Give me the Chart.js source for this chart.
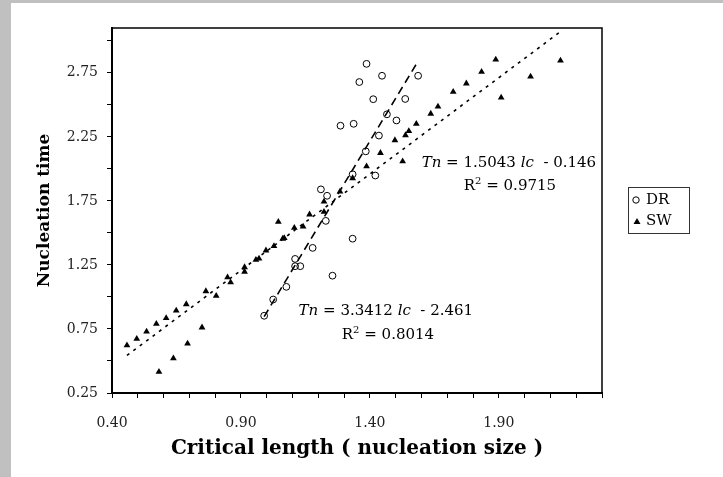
<!DOCTYPE html>
<html>
<head>
<meta charset="utf-8">
<title>Nucleation time vs critical length</title>
<script src="https://cdn.jsdelivr.net/npm/chart.js@4.4.0/dist/chart.umd.min.js"></script>
<style>
    html, body { margin: 0; padding: 0; background: #fff; }
    #wrap { width: 723px; height: 477px; position: relative; }
</style>
</head>
<body>
<div id="wrap"><canvas id="nucleationChart"></canvas></div>
<script>
// DR series (open circles)
const drX = [0.99, 1.025, 1.076, 1.11, 1.11, 1.13, 1.178, 1.255, 1.229, 1.21, 1.234, 1.333, 1.333,
             1.421, 1.384, 1.435, 1.286, 1.337, 1.466, 1.503, 1.413, 1.537, 1.359, 1.447, 1.587, 1.387];
const drY = [0.853, 0.98, 1.079, 1.297, 1.24, 1.24, 1.383, 1.166, 1.594, 1.84, 1.79, 1.455, 1.958,
             1.948, 2.137, 2.26, 2.337, 2.352, 2.426, 2.378, 2.544, 2.546, 2.678, 2.727, 2.727, 2.82];

// SW series (filled triangles)
const swX = [0.458, 0.496, 0.534, 0.572, 0.61, 0.649, 0.688, 0.764, 0.804, 0.848, 0.86, 0.914, 0.914,
             0.958, 0.97, 0.997, 1.028, 1.062, 1.068, 1.045, 1.107, 1.141, 1.166, 1.222, 1.222, 1.284,
             1.333, 1.387, 1.527, 1.441, 1.497, 1.538, 1.551, 1.58, 1.636, 1.664, 1.723, 1.774, 1.833,
             1.888, 1.909, 2.023, 2.139, 0.582, 0.638, 0.693, 0.749];
const swY = [0.622, 0.673, 0.73, 0.79, 0.835, 0.893, 0.943, 1.045, 1.008, 1.153, 1.114, 1.232, 1.197,
             1.29, 1.30, 1.363, 1.397, 1.455, 1.46, 1.586, 1.539, 1.549, 1.644, 1.665, 1.744, 1.822,
             1.927, 2.02, 2.059, 2.124, 2.224, 2.263, 2.295, 2.352, 2.431, 2.486, 2.602, 2.667, 2.758,
             2.853, 2.557, 2.72, 2.846, 0.415, 0.52, 0.636, 0.762];

// linear trendlines as printed on the chart
const drFit = { slope: 3.3412, intercept: -2.461, r2: '0.8014', c: '2.461' };
const swFit = { slope: 1.5043, intercept: -0.146, r2: '0.9715', c: '0.146' };

const xTickLabels = ['0.40', '0.90', '1.40', '1.90'];
const yTickLabels = ['0.25', '0.75', '1.25', '1.75', '2.25', '2.75'];

const serif = "'DejaVu Serif', serif";

function toPoints(xs, ys) {
    return xs.map((x, i) => ({ x: x, y: ys[i] }));
}

// trendline spans the x range of its own series
function fitLine(xs, fit) {
    const lo = Math.min(...xs);
    const hi = Math.max(...xs);
    return [
        { x: lo, y: fit.slope * lo + fit.intercept },
        { x: hi, y: fit.slope * hi + fit.intercept }
    ];
}

// draw a run of text pieces, centred on (cx, cy)
function drawRich(ctx, parts, cx, cy) {
    let total = 0;
    parts.forEach(p => {
        ctx.font = p.font;
        p.w = ctx.measureText(p.text).width;
        total += p.w;
    });
    let x = cx - total / 2;
    ctx.textAlign = 'left';
    ctx.textBaseline = 'middle';
    parts.forEach(p => {
        ctx.font = p.font;
        ctx.fillText(p.text, x, cy + (p.dy || 0));
        x += p.w;
    });
}

function eqParts(fit) {
    const up = "15px " + serif;
    const it = "italic 15px " + serif;
    return [
        { text: 'Tn', font: it },
        { text: ' = ' + fit.slope.toFixed(4) + ' ', font: up },
        { text: 'lc', font: it },
        { text: '  - ' + fit.c, font: up }
    ];
}

function r2Parts(fit) {
    const up = "15px " + serif;
    return [
        { text: 'R', font: up },
        { text: '2', font: "10px " + serif, dy: -5 },
        { text: ' = ' + fit.r2, font: up }
    ];
}

const framePlugin = {
    id: 'frame',
    beforeDraw(chart) {
        const ctx = chart.ctx;
        ctx.save();
        ctx.fillStyle = '#c0c0c0';
        ctx.fillRect(0, 0, 11, chart.height);
        ctx.fillRect(0, 0, chart.width, 3);
        ctx.restore();
    },
    afterDraw(chart) {
        const ctx = chart.ctx;
        const a = chart.chartArea;
        const xs = chart.scales.x;
        const ys = chart.scales.y;
        ctx.save();

        // plot box
        ctx.strokeStyle = '#000';
        ctx.lineWidth = 1.5;
        ctx.strokeRect(a.left, a.top, a.right - a.left, a.bottom - a.top);

        // trendline equations
        ctx.fillStyle = '#000';
        drawRich(ctx, eqParts(swFit), xs.getPixelForValue(1.939), ys.getPixelForValue(2.045));
        drawRich(ctx, r2Parts(swFit), xs.getPixelForValue(1.943), ys.getPixelForValue(1.864));
        drawRich(ctx, eqParts(drFit), xs.getPixelForValue(1.462), ys.getPixelForValue(0.888));
        drawRich(ctx, r2Parts(drFit), xs.getPixelForValue(1.470), ys.getPixelForValue(0.699));

        // legend
        const lx = 628, ly = 187, lw = 61, lh = 46;
        ctx.fillStyle = '#fff';
        ctx.fillRect(lx, ly, lw, lh);
        ctx.strokeStyle = '#333';
        ctx.lineWidth = 1;
        ctx.strokeRect(lx + 0.5, ly + 0.5, lw, lh);

        ctx.fillStyle = '#000';
        ctx.font = "15px " + serif;
        ctx.textAlign = 'left';
        ctx.textBaseline = 'middle';

        ctx.beginPath();
        ctx.arc(636, 200, 3.2, 0, Math.PI * 2);
        ctx.strokeStyle = '#000';
        ctx.stroke();
        ctx.fillText('DR', 646, 200);

        ctx.beginPath();
        ctx.moveTo(637, 218);
        ctx.lineTo(640.5, 224);
        ctx.lineTo(633.5, 224);
        ctx.closePath();
        ctx.fill();
        ctx.fillText('SW', 646, 221);

        ctx.restore();
    }
};

function isLabelled(value, list) {
    return list.indexOf(Number(value).toFixed(2)) !== -1;
}

document.addEventListener('DOMContentLoaded', function() {
    const ctx = document.getElementById('nucleationChart').getContext('2d');
    const nucleationChart = new Chart(ctx, {
        type: 'scatter',
        data: {
            datasets: [
                {
                    label: 'DR',
                    data: toPoints(drX, drY),
                    pointStyle: 'circle',
                    pointRadius: 3.4,
                    pointBorderWidth: 1,
                    borderColor: '#000',
                    backgroundColor: 'rgba(255,255,255,0)'
                },
                {
                    label: 'SW',
                    data: toPoints(swX, swY),
                    pointStyle: 'triangle',
                    pointRadius: 3.9,
                    pointBorderWidth: 0,
                    borderColor: '#000',
                    backgroundColor: '#000'
                },
                {
                    label: 'DR trend',
                    type: 'line',
                    data: fitLine(drX, drFit),
                    borderColor: '#000',
                    borderWidth: 1.6,
                    borderDash: [8, 5],
                    pointRadius: 0,
                    fill: false
                },
                {
                    label: 'SW trend',
                    type: 'line',
                    data: fitLine(swX, swFit),
                    borderColor: '#000',
                    borderWidth: 1.6,
                    borderDash: [3, 5],
                    pointRadius: 0,
                    fill: false
                }
            ]
        },
        options: {
            responsive: true,
            maintainAspectRatio: false,
            animation: false,
            layout: {
                padding: { top: 28, right: 121, bottom: 0, left: 0 }
            },
            scales: {
                x: {
                    type: 'linear',
                    min: 0.4,
                    max: 2.3,
                    afterFit: function(scale) { scale.height = 84; },
                    border: { display: true, color: '#000', width: 2 },
                    grid: { display: true, drawOnChartArea: false, drawTicks: true, tickLength: 5, color: '#000' },
                    ticks: {
                        stepSize: 0.1,
                        autoSkip: false,
                        maxRotation: 0,
                        includeBounds: false,
                        padding: 17,
                        color: '#222',
                        font: { family: serif, size: 14 },
                        callback: function(value) {
                            return isLabelled(value, xTickLabels) ? Number(value).toFixed(2) : '';
                        }
                    },
                    title: {
                        display: true,
                        text: 'Critical length ( nucleation size )',
                        color: '#000',
                        font: { family: serif, size: 20, weight: 'bold' },
                        padding: { top: 0, bottom: 16 }
                    }
                },
                y: {
                    type: 'linear',
                    min: 0.25,
                    max: 3.1,
                    afterFit: function(scale) { scale.width = 112; },
                    border: { display: true, color: '#000', width: 2 },
                    grid: { display: true, drawOnChartArea: false, drawTicks: true, tickLength: 5, color: '#000' },
                    ticks: {
                        stepSize: 0.25,
                        autoSkip: false,
                        includeBounds: false,
                        padding: 9,
                        color: '#222',
                        font: { family: serif, size: 14 },
                        callback: function(value) {
                            return isLabelled(value, yTickLabels) ? Number(value).toFixed(2) : '';
                        }
                    },
                    title: {
                        display: true,
                        text: 'Nucleation time',
                        color: '#000',
                        font: { family: serif, size: 17, weight: 'bold' },
                        padding: { top: 34, bottom: 0 }
                    }
                }
            },
            plugins: {
                legend: { display: false },
                tooltip: { enabled: false }
            }
        },
        plugins: [framePlugin]
    });
});
</script>
</body>
</html>
